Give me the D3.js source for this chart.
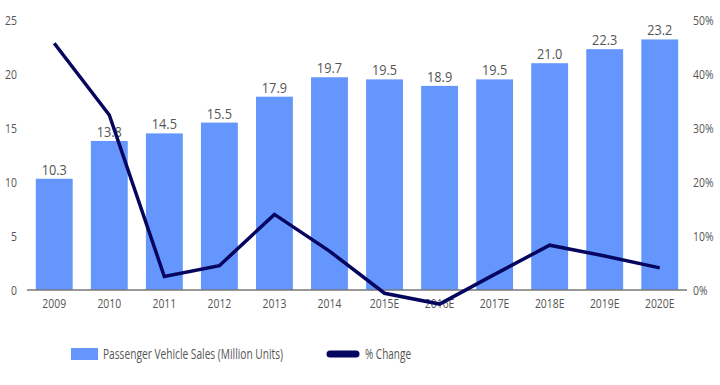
<!DOCTYPE html>
<html>
<head>
<meta charset="utf-8">
<script src="https://cdn.jsdelivr.net/npm/d3@7"></script>
<style>
  body { margin: 0; background: #fff; }
  text { font-family: "Open Sans", sans-serif; fill: #555; }
</style>
</head>
<body>
<script>
// Chart data
var years = ["2009", "2010", "2011", "2012", "2013", "2014", "2015E", "2016E", "2017E", "2018E", "2019E", "2020E"];
var sales = [10.3, 13.8, 14.5, 15.5, 17.9, 19.7, 19.5, 18.9, 19.5, 21.0, 22.3, 23.2];
var pctChange = [45.7, 32.4, 2.5, 4.5, 14.0, 7.2, -0.6, -2.6, 2.9, 8.3, 6.3, 4.1];
var leftTicks = [0, 5, 10, 15, 20, 25];
var rightTicks = [0, 10, 20, 30, 40, 50];

var width = 720, height = 385;
var plotLeft = 27, plotRight = 687, plotTop = 20, plotBottom = 290;

var svg = d3.select("body").append("svg")
	.attr("width", width)
	.attr("height", height);

var x = d3.scaleBand()
	.domain(years)
	.range([plotLeft, plotRight])
	.paddingInner(0.33)
	.paddingOuter(0.16);

var y = d3.scaleLinear().domain([0, 25]).range([plotBottom, plotTop]);
var y2 = d3.scaleLinear().domain([0, 50]).range([plotBottom, plotTop]);

// squeeze text horizontally (reference uses a narrow face)
function squeeze(sel, k) {
	sel.each(function() {
		var w = this.getComputedTextLength();
		d3.select(this)
			.attr("textLength", w * k)
			.attr("lengthAdjust", "spacingAndGlyphs");
	});
}

// Bars
svg.append("g")
	.selectAll("rect")
	.data(sales)
	.enter().append("rect")
		.attr("x", function(d, i) { return x(years[i]); })
		.attr("y", function(d) { return y(d); })
		.attr("width", x.bandwidth())
		.attr("height", function(d) { return plotBottom - y(d); })
		.attr("fill", "#6496fd");

// Bar value labels
var valueLabels = svg.append("g")
	.selectAll("text")
	.data(sales)
	.enter().append("text")
		.attr("x", function(d, i) { return x(years[i]) + x.bandwidth() / 2; })
		.attr("y", function(d) { return y(d) - 4; })
		.attr("text-anchor", "middle")
		.attr("font-size", 15)
		.text(function(d) { return d.toFixed(1); });
squeeze(valueLabels, 0.85);

// Left axis
var leftAxis = svg.append("g")
	.attr("transform", "translate(" + plotLeft + ",0)")
	.call(d3.axisLeft(y).tickValues(leftTicks).tickSize(0).tickPadding(10));
leftAxis.select(".domain").remove();

// Right axis
var rightAxis = svg.append("g")
	.attr("transform", "translate(" + plotRight + ",0)")
	.call(d3.axisRight(y2).tickValues(rightTicks).tickSize(0).tickPadding(6)
		.tickFormat(function(d) { return d + "%"; }));
rightAxis.select(".domain").remove();

// Bottom axis
var bottomAxis = svg.append("g")
	.attr("transform", "translate(0," + plotBottom + ")")
	.call(d3.axisBottom(x).tickSize(0).tickPadding(9));
bottomAxis.select(".domain").remove();

var tickText = svg.selectAll(".tick text")
	.attr("font-size", 13)
	.style("fill", "#555")
	.attr("font-family", "'Open Sans', sans-serif");
squeeze(tickText, 0.8);

svg.append("line")
	.attr("x1", plotLeft).attr("x2", plotRight)
	.attr("y1", plotBottom).attr("y2", plotBottom)
	.attr("stroke", "#777")
	.attr("stroke-width", 1.5);

// % change line
var line = d3.line()
	.x(function(d, i) { return x(years[i]) + x.bandwidth() / 2; })
	.y(function(d) { return y2(d); });

svg.append("path")
	.datum(pctChange)
	.attr("d", line)
	.attr("fill", "none")
	.attr("stroke", "#06065f")
	.attr("stroke-width", 3.5);

// Legend
var legend = svg.append("g");
legend.append("rect")
	.attr("x", 71).attr("y", 348)
	.attr("width", 27).attr("height", 12)
	.attr("fill", "#6496fd");
legend.append("text")
	.attr("x", 103).attr("y", 359)
	.attr("font-size", 14)
	.attr("textLength", 180)
	.attr("lengthAdjust", "spacingAndGlyphs")
	.text("Passenger Vehicle Sales (Million Units)");
legend.append("line")
	.attr("x1", 330).attr("x2", 356)
	.attr("y1", 354).attr("y2", 354)
	.attr("stroke", "#06065f")
	.attr("stroke-width", 7)
	.attr("stroke-linecap", "round");
legend.append("text")
	.attr("x", 365).attr("y", 359)
	.attr("font-size", 14)
	.attr("textLength", 46)
	.attr("lengthAdjust", "spacingAndGlyphs")
	.text("% Change");
</script>
</body>
</html>
